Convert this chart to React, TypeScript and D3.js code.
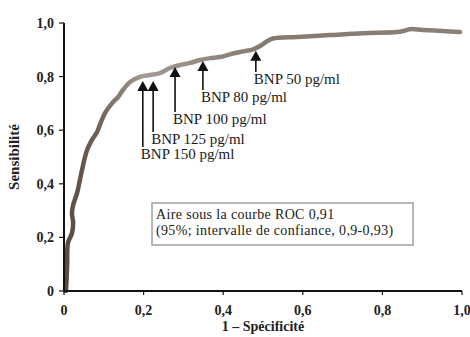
import * as d3 from 'd3';

// ROC curve points: [1 - specificity, sensitivity]
const rocFpr = [0.005, 0.008, 0.01, 0.02, 0.023, 0.02, 0.023, 0.033, 0.04, 0.045, 0.058, 0.07, 0.083, 0.09, 0.103, 0.121, 0.136, 0.148, 0.166, 0.191, 0.216, 0.241, 0.266, 0.291, 0.317, 0.342, 0.367, 0.392, 0.417, 0.45, 0.475, 0.497, 0.51, 0.525, 0.585, 0.668, 0.751, 0.837, 0.852, 0.869, 0.902, 0.952, 0.995];
const rocTpr = [0, 0.1, 0.18, 0.216, 0.254, 0.29, 0.321, 0.366, 0.414, 0.45, 0.526, 0.563, 0.593, 0.619, 0.664, 0.701, 0.724, 0.75, 0.78, 0.799, 0.806, 0.813, 0.832, 0.843, 0.851, 0.862, 0.869, 0.873, 0.883, 0.894, 0.902, 0.918, 0.932, 0.942, 0.948, 0.955, 0.962, 0.966, 0.97, 0.977, 0.974, 0.97, 0.966];

// threshold arrows
const cutLabels = ['BNP 150 pg/ml', 'BNP 125 pg/ml', 'BNP 100 pg/ml', 'BNP 80 pg/ml', 'BNP 50 pg/ml'];
const cutX = [0.198, 0.224, 0.279, 0.349, 0.482];
const cutTip = [0.784, 0.784, 0.836, 0.858, 0.896];
const cutBase = [0.537, 0.593, 0.668, 0.75, 0.817];

const ticks = [0, 0.2, 0.4, 0.6, 0.8, 1.0];
const tickLabels = ['0', '0,2', '0,4', '0,6', '0,8', '1,0'];

const legendLines = ['Aire sous la courbe ROC 0,91', '(95%; intervalle de confiance, 0,9-0,93)'];

const W = 470, H = 337;
const margin = { left: 64, right: 8, top: 23, bottom: 46 };
const font = '"Liberation Serif", "DejaVu Serif", serif';

export default function App() {
  const x = d3.scaleLinear().domain([0, 1]).range([margin.left, W - margin.right]);
  const y = d3.scaleLinear().domain([0, 1]).range([H - margin.bottom, margin.top]);

  const pts: [number, number][] = rocFpr.map((f, i) => [f, rocTpr[i]]);
  const line = d3.line<[number, number]>()
    .x(d => x(d[0]))
    .y(d => y(d[1]))
    .curve(d3.curveCatmullRom.alpha(0.5));

  const y0 = y(0), x0 = x(0);

  return (
    <div style={{ position: 'fixed', left: 0, top: 0 }}>
      <svg width={W} height={H} style={{ display: 'block', background: '#fff' }}>
        <defs>
          <linearGradient id="rocGrad" gradientUnits="userSpaceOnUse" x1={x(0)} y1={0} x2={x(1)} y2={0}>
            <stop offset="0" stopColor="#5a4a3d" />
            <stop offset="0.08" stopColor="#6f6052" />
            <stop offset="0.2" stopColor="#a39b93" />
            <stop offset="0.5" stopColor="#857a70" />
            <stop offset="1" stopColor="#8a8078" />
          </linearGradient>
        </defs>

        {/* ROC curve */}
        <path d={line(pts) ?? ''} fill="none" stroke="url(#rocGrad)" strokeWidth={4.5}
          strokeLinejoin="round" strokeLinecap="round" />

        {/* axes */}
        <line x1={x0} x2={x0} y1={y(1)} y2={y0} stroke="#111" strokeWidth={2} />
        <line x1={x0} x2={x(1)} y1={y0} y2={y0} stroke="#111" strokeWidth={2} />
        {ticks.map((t, i) => (
          <g key={'y' + i}>
            <line x1={x0 - 5} x2={x0} y1={y(t)} y2={y(t)} stroke="#111" strokeWidth={1.2} />
            <text x={x0 - 10} y={y(t)} dy="0.35em" textAnchor="end" fontFamily={font}
              fontSize={14} fontWeight="bold" fill="#222">{tickLabels[i]}</text>
          </g>
        ))}
        {ticks.map((t, i) => (
          <g key={'x' + i}>
            <line x1={x(t)} x2={x(t)} y1={y0} y2={y0 + 4} stroke="#111" strokeWidth={1.2} />
            <text x={x(t)} y={y0 + 24} textAnchor="middle" fontFamily={font}
              fontSize={14} fontWeight="bold" fill="#222">{tickLabels[i]}</text>
          </g>
        ))}

        {/* axis titles */}
        <text transform={`translate(19,${y(0.5)}) rotate(-90)`} textAnchor="middle" fontFamily={font}
          fontSize={15} fontWeight="bold" fill="#222">Sensibilité</text>
        <text x={x(0.5)} y={H - 6} textAnchor="middle" fontFamily={font}
          fontSize={14} fontWeight="bold" fill="#222">1 – Spécificité</text>

        {/* threshold arrows */}
        {cutLabels.map((lab, i) => {
          const ax = x(cutX[i]);
          const tip = y(cutTip[i]);
          const base = y(cutBase[i]);
          return (
            <g key={lab}>
              <line x1={ax} x2={ax} y1={tip + 8} y2={base} stroke="#111" strokeWidth={1.6} />
              <path d={`M${ax},${tip} L${ax - 5.5},${tip + 10} L${ax + 5.5},${tip + 10} Z`} fill="#111" />
              <text x={ax - 2} y={base + 12} fontFamily={font} fontSize={15} fill="#1a1a1a">{lab}</text>
            </g>
          );
        })}

        {/* AUC box */}
        <rect x={152} y={203} width={261} height={42} fill="none" stroke="#888" strokeWidth={1.2} />
        {legendLines.map((l, i) => (
          <text key={i} x={156} y={219 + i * 16} fontFamily={font} fontSize={14}
            letterSpacing={0.35} fill="#1a1a1a">{l}</text>
        ))}
      </svg>
    </div>
  );
}
